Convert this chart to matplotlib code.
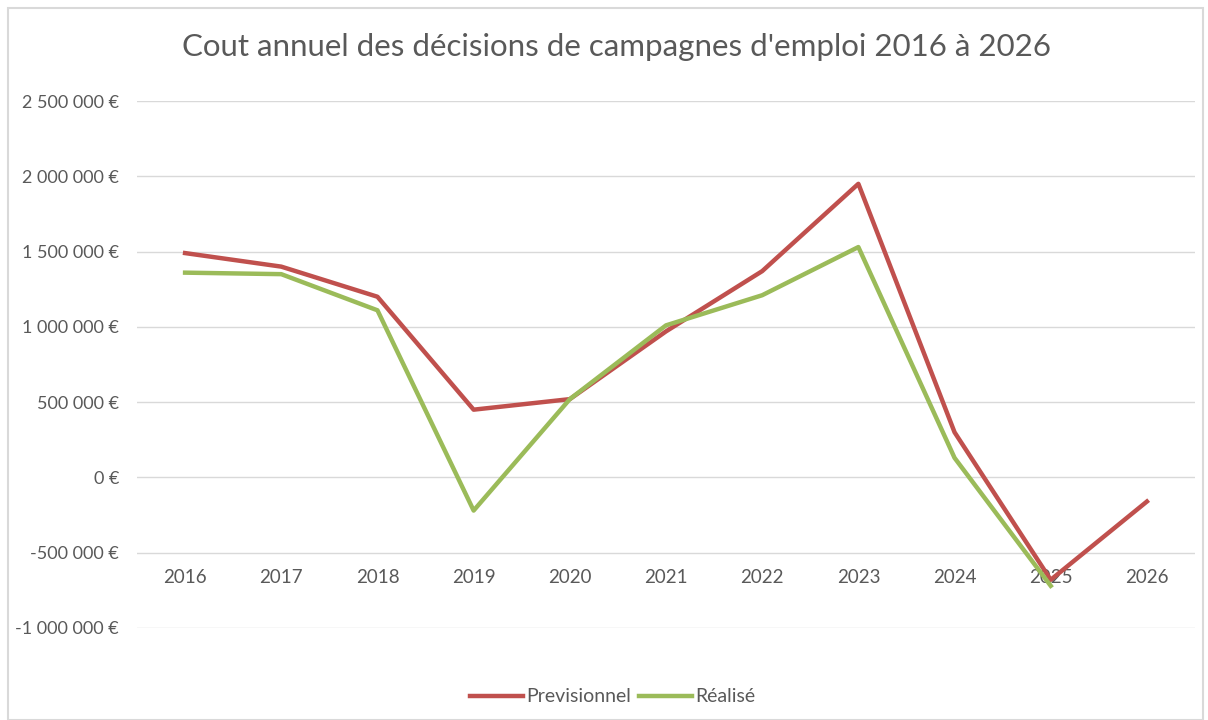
import matplotlib.pyplot as plt
from matplotlib.patches import Rectangle
from matplotlib.ticker import FuncFormatter

# === DATA ===
years = ["2016", "2017", "2018", "2019", "2020", "2021", "2022", "2023", "2024", "2025", "2026"]
previsionnel = [1490000, 1400000, 1200000, 450000, 520000, 970000, 1370000, 1950000, 300000, -680000, -160000]
realise = [1360000, 1350000, 1110000, -220000, 520000, 1010000, 1210000, 1530000, 130000, -720000, None]

title = "Cout annuel des décisions de campagnes d'emploi 2016 à 2026"

# === STYLE ===
plt.rcParams['font.family'] = ['Lato', 'DejaVu Sans']
text_col = "#595959"
red = "#C0504D"
green = "#9BBB59"

fig = plt.figure(figsize=(12.08, 7.2), dpi=100)
ax = fig.add_axes([137 / 1208, 1 - 628 / 720, 1058 / 1208, 527 / 720])

x = list(range(len(years)))
ax.plot(x, previsionnel, color=red, lw=3.2, solid_joinstyle='round', label="Previsionnel", zorder=3)
xr = [i for i, v in zip(x, realise) if v is not None]
yr = [v for v in realise if v is not None]
ax.plot(xr, yr, color=green, lw=3.2, solid_joinstyle='round', label="Réalisé", zorder=3)

ax.set_xlim(-0.5, len(years) - 0.5)
ax.set_ylim(-1000000, 2500000)
ax.set_yticks(range(-1000000, 2500001, 500000))
ax.yaxis.set_major_formatter(FuncFormatter(lambda v, p: f"{v:,.0f}".replace(",", " ") + " €"))
ax.grid(axis='y', color="#D9D9D9", lw=1)
ax.set_axisbelow(True)

# category axis crosses at -500 000
ax.spines['bottom'].set_position(('data', -500000))
for s in ax.spines.values():
    s.set_color('none')
ax.set_xticks(x)
ax.set_xticklabels(years)
ax.tick_params(axis='x', length=0, pad=12, labelsize=13.5, labelcolor=text_col)
ax.tick_params(axis='y', length=0, pad=13, labelsize=13, labelcolor=text_col)

fig.text(617 / 1208, 1 - 47 / 720, title, ha='center', va='center', fontsize=22.5, color=text_col)

leg = fig.legend(loc='center', bbox_to_anchor=(613 / 1208, 1 - 697 / 720), ncol=2, frameon=False,
                 fontsize=14, handlelength=2.7, handletextpad=0.2, columnspacing=0.4)
for t in leg.get_texts():
    t.set_color(text_col)

# chart border
fig.patches.append(Rectangle((8 / 1208, 0), 1195 / 1208, 712 / 720, transform=fig.transFigure,
                             fill=False, edgecolor="#D9D9D9", lw=1.5))

plt.savefig("out.png", dpi=100)
plt.close()
